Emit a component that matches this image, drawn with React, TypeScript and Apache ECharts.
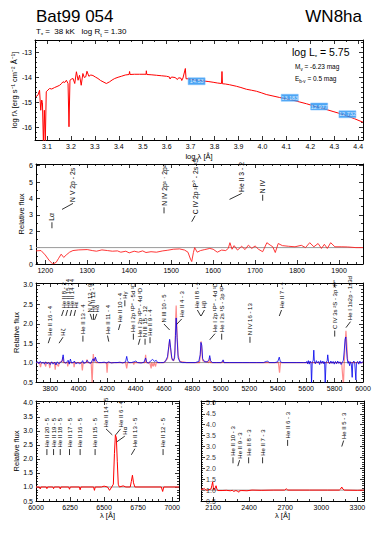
import React, { useEffect, useRef } from "react";
import * as echarts from "echarts";

const FONT = "'Liberation Sans', Arial, Helvetica, sans-serif";

// ---------------- header texts ----------------
const starName = "Bat99 054";
const spectralType = "WN8ha";
const tStar = "38 kK";
const logRt = "1.30";
const logL = "5.75";
const absMagV = "-6.23";
const colorExcess = "0.5";

// ---------------- panel 1 : SED ----------------
const sedPoints: number[][] = [
  [3.053, -14.77], [3.062, -14.71], [3.069, -14.51], [3.074, -15.31], [3.078, -14.9], [3.081, -15.0],
  [3.085, -16.6], [3.089, -15.31], [3.093, -16.6], [3.097, -14.57], [3.104, -14.5], [3.111, -14.44],
  [3.12, -14.46], [3.132, -14.4], [3.142, -14.36], [3.153, -14.31], [3.16, -14.25], [3.167, -14.17],
  [3.174, -14.2], [3.181, -14.11], [3.188, -14.24], [3.192, -15.97], [3.196, -14.11], [3.203, -14.06],
  [3.209, -14.04], [3.216, -14.24], [3.223, -13.77], [3.23, -14.11], [3.236, -13.91], [3.243, -14.31],
  [3.25, -13.84], [3.256, -14.0], [3.262, -13.97], [3.267, -13.75], [3.275, -13.95], [3.283, -13.9],
  [3.292, -13.92], [3.302, -13.98], [3.313, -14.04], [3.324, -14.12], [3.334, -14.17], [3.348, -14.24],
  [3.362, -14.17], [3.372, -14.1], [3.383, -14.04], [3.397, -13.99], [3.411, -13.95], [3.427, -13.9],
  [3.443, -13.88], [3.445, -13.76], [3.447, -13.88], [3.465, -13.87], [3.487, -13.87], [3.514, -13.87],
  [3.515, -13.73], [3.517, -13.88], [3.535, -13.89], [3.557, -13.91], [3.578, -13.93], [3.599, -13.95],
  [3.612, -13.98], [3.614, -14.06], [3.62, -13.98], [3.635, -14.0], [3.645, -14.08], [3.65, -14.01],
  [3.66, -14.03], [3.663, -14.12], [3.668, -14.02], [3.678, -13.64], [3.681, -14.05], [3.69, -14.05],
  [3.703, -14.08], [3.72, -14.1], [3.738, -14.11], [3.755, -14.14], [3.773, -14.16], [3.794, -14.19],
  [3.812, -14.22], [3.829, -14.24], [3.831, -13.76], [3.833, -14.25], [3.845, -14.26], [3.863, -14.29],
  [3.877, -14.32], [3.891, -14.35], [3.91, -14.4], [3.933, -14.47], [3.955, -14.51], [3.975, -14.55],
  [3.995, -14.61], [4.016, -14.68], [4.044, -14.74], [4.072, -14.8], [4.1, -14.86], [4.128, -14.91],
  [4.156, -14.98], [4.184, -15.05], [4.212, -15.13], [4.239, -15.2], [4.267, -15.28], [4.295, -15.36],
  [4.323, -15.44], [4.351, -15.53], [4.385, -15.65], [4.42, -15.79],
];
const photLogLam = [3.725, 4.114, 4.237, 4.355];
const photLogF = [-14.15, -14.81, -15.16, -15.47];
const photMag = ["14.53", "13.183", "12.977", "12.732"];
const sedXTicks = [3.1, 3.2, 3.3, 3.4, 3.5, 3.6, 3.7, 3.8, 3.9, 4.0, 4.1, 4.2, 4.3, 4.4];
const sedYTicks = [-16, -15, -14, -13];

// ---------------- panel 2 : UV ----------------
const uvFlux: number[][] = [
  [1178, 0.8], [1190, 0.82], [1200, 0.55], [1210, 0.2], [1218, 0.0], [1226, 0.1], [1232, 0.35],
  [1238, 0.6], [1244, 0.4], [1250, 0.55], [1258, 0.72], [1266, 0.82], [1280, 0.86], [1300, 0.88],
  [1312, 0.82], [1322, 0.78], [1335, 0.86], [1348, 0.82], [1360, 0.78], [1372, 0.8], [1380, 0.72],
  [1392, 0.78], [1400, 0.68], [1412, 0.78], [1422, 0.72], [1432, 0.8], [1440, 0.7], [1452, 0.75],
  [1465, 0.72], [1480, 0.8], [1492, 0.84], [1505, 0.9], [1520, 0.92], [1532, 0.85], [1540, 0.72],
  [1546, 0.3], [1549, 0.15], [1553, 0.7], [1556, 1.0], [1562, 0.72], [1570, 0.82], [1580, 0.88],
  [1592, 0.95], [1600, 0.9], [1610, 0.72], [1620, 0.85], [1630, 0.82], [1636, 0.95], [1640, 1.3],
  [1645, 0.9], [1650, 1.12], [1658, 0.85], [1668, 1.08], [1676, 0.88], [1684, 1.15], [1692, 0.95],
  [1700, 1.1], [1708, 0.9], [1718, 0.75], [1728, 1.3], [1736, 1.15], [1742, 1.05], [1748, 0.7],
  [1755, 1.25], [1765, 1.12], [1780, 1.08], [1795, 1.05], [1810, 1.14], [1820, 1.0], [1830, 1.3],
  [1840, 1.05], [1850, 1.25], [1858, 0.95], [1865, 1.2], [1872, 0.95], [1880, 1.3], [1890, 1.05],
  [1905, 1.05], [1920, 1.04], [1940, 1.0], [1957, 1.0],
];
const uvXTicks = [1200, 1300, 1400, 1500, 1600, 1700, 1800, 1900];
const uvYTicks = [0, 1, 2, 3, 4, 5, 6];
// [line wavelength, label wavelength, label height, text]
const uvLines: [number, number, number, string][] = [
  [1216, 1216, 2.18, "Lα"],
  [1240, 1266, 3.33, "N V 2p - 2s"],
  [1483, 1483, 3.09, "N IV 2p¹ · 2p²"],
  [1549, 1557, 2.58, "C IV 2p ²P° - 2s ²S"],
  [1639, 1668, 3.94, "He II 3 - 2"],
  [1718, 1718, 3.86, "N IV"],
];

// ---------------- panel 3 : optical ----------------
const optModel: number[][] = [
  [3700, 1.0], [3725, 1.0], [3732, 0.88], [3738, 1.0], [3760, 1.0], [3768, 0.9], [3774, 1.0],
  [3790, 1.0], [3797, 0.86], [3803, 1.0], [3830, 1.0], [3835, 0.82], [3841, 1.0], [3858, 0.9],
  [3864, 1.0], [3886, 1.05], [3889, 1.14], [3893, 1.0], [3920, 1.0], [3923, 0.9], [3928, 1.0],
  [3965, 1.0], [3968, 0.88], [3972, 1.0], [4020, 1.0], [4026, 0.8], [4032, 1.0], [4055, 1.0],
  [4058, 1.08], [4062, 1.0], [4088, 1.0], [4095, 0.45], [4100, 1.0], [4103, 1.22], [4108, 1.05],
  [4116, 1.12], [4122, 1.0], [4195, 1.0], [4200, 0.74], [4205, 1.0], [4330, 1.0], [4338, 0.85],
  [4344, 1.0], [4384, 1.0], [4388, 0.95], [4392, 1.0], [4466, 1.0], [4471, 1.2], [4476, 1.0],
  [4500, 1.0], [4510, 0.85], [4514, 1.0], [4525, 0.9], [4530, 1.0], [4541, 0.9], [4546, 1.0],
  [4600, 1.0], [4625, 1.1], [4634, 1.4], [4640, 1.58], [4648, 1.3], [4656, 1.08], [4670, 1.05],
  [4678, 1.3], [4683, 2.2], [4686, 2.47], [4691, 1.9], [4699, 1.2], [4712, 1.03], [4760, 1.0],
  [4850, 1.0], [4856, 1.2], [4861, 1.55], [4866, 1.35], [4872, 1.05], [4915, 1.0], [4922, 1.12],
  [4928, 1.0], [5010, 1.0], [5016, 1.05], [5022, 1.0], [5405, 1.0], [5413, 0.74], [5420, 1.0],
  [5850, 1.0], [5862, 0.4], [5868, 1.0], [5873, 1.4], [5880, 1.82], [5886, 1.5], [5892, 1.05],
  [5905, 1.0], [6000, 1.0],
];
const optObserved: number[][] = [
  [3700, 1.0], [3712, 1.02], [3720, 0.97], [3730, 1.03], [3740, 0.98], [3750, 1.01], [3760, 0.96],
  [3768, 1.02], [3778, 0.97], [3790, 1.0], [3800, 0.95], [3810, 1.02], [3820, 0.96], [3832, 1.01],
  [3840, 0.94], [3850, 1.02], [3860, 0.97], [3872, 1.0], [3883, 1.04], [3891, 1.2], [3897, 1.02],
  [3908, 0.98], [3918, 1.02], [3926, 1.06], [3934, 0.96], [3942, 1.09], [3950, 0.99], [3962, 1.0],
  [3970, 1.04], [3980, 0.97], [3995, 1.0], [4008, 0.97], [4020, 1.0], [4028, 1.05], [4036, 0.98],
  [4050, 1.0], [4060, 1.06], [4070, 1.0], [4085, 0.98], [4096, 1.06], [4102, 1.1], [4108, 1.03],
  [4118, 1.14], [4126, 1.04], [4140, 1.0], [4160, 1.0], [4180, 1.01], [4196, 0.99], [4210, 1.02],
  [4230, 0.99], [4250, 1.0], [4270, 1.0], [4290, 1.01], [4310, 0.99], [4330, 1.02], [4338, 1.16],
  [4344, 1.05], [4352, 1.0], [4370, 1.0], [4390, 1.02], [4402, 1.04], [4415, 1.0], [4440, 0.99],
  [4460, 1.01], [4471, 1.12], [4478, 1.02], [4490, 0.98], [4505, 1.04], [4520, 1.08], [4535, 1.03],
  [4545, 1.06], [4556, 1.0], [4575, 1.0], [4595, 1.0], [4610, 1.03], [4625, 1.15], [4634, 1.42],
  [4640, 1.6], [4647, 1.38], [4655, 1.12], [4665, 1.05], [4675, 1.12], [4681, 1.7], [4686, 2.15],
  [4692, 1.65], [4700, 1.12], [4712, 1.02], [4730, 1.0], [4760, 1.0], [4790, 1.0], [4820, 1.0],
  [4845, 1.03], [4855, 1.2], [4860, 1.52], [4866, 1.45], [4872, 1.1], [4885, 1.02], [4905, 1.02],
  [4916, 1.07], [4922, 1.18], [4928, 1.05], [4940, 1.0], [4970, 1.0], [5000, 1.0], [5012, 1.03],
  [5016, 1.07], [5022, 1.0], [5060, 1.0], [5100, 1.0], [5150, 1.0], [5200, 1.0], [5250, 1.0],
  [5300, 1.0], [5320, 1.03], [5330, 1.04], [5340, 1.0], [5380, 1.0], [5400, 1.02], [5411, 1.14],
  [5418, 1.03], [5430, 1.0], [5480, 1.0], [5530, 1.0], [5580, 1.0], [5600, 1.0], [5605, 1.03],
  [5610, 0.97], [5616, 1.05], [5622, 0.96], [5628, 1.04], [5634, 0.98], [5638, 0.45], [5643, 1.02],
  [5650, 1.06], [5654, 1.32], [5658, 1.02], [5665, 0.97], [5672, 1.05], [5680, 0.99], [5688, 1.03],
  [5695, 0.95], [5702, 1.05], [5710, 0.98], [5718, 1.04], [5724, 0.97], [5730, 1.02], [5734, 0.45],
  [5740, 1.0], [5748, 1.05], [5752, 1.2], [5758, 1.0], [5766, 0.97], [5774, 1.04], [5782, 0.98],
  [5790, 1.03], [5798, 0.96], [5806, 1.03], [5814, 0.97], [5822, 1.04], [5830, 0.98], [5838, 1.02],
  [5846, 0.95], [5854, 1.0], [5862, 1.06], [5868, 1.3], [5874, 1.6], [5879, 1.66], [5884, 1.35],
  [5889, 1.1], [5895, 0.98], [5900, 1.03], [5906, 0.92], [5912, 1.02], [5918, 0.96], [5924, 0.62],
  [5928, 1.0], [5936, 1.04], [5942, 0.97], [5950, 0.55], [5954, 1.0], [5962, 1.03], [5970, 0.96],
  [5978, 1.04], [5986, 0.98], [5994, 1.02], [6000, 1.0],
];
const optXTicks = [3800, 4000, 4200, 4400, 4600, 4800, 5000, 5200, 5400, 5600, 5800, 6000];
const relYTicks3 = [0.5, 1.0, 1.5, 2.0, 2.5, 3.0];
const optLines: [number, number, number, string][] = [
  [3786, 3800, 1.5, "He II 16 - 4"],
  [3862, 3890, 1.5, "Hζ"],
  [3880, 3894, 2.2, "He II 8 - 2"],
  [3910, 3922, 2.2, "He II 15 - 4"],
  [3940, 3950, 2.2, "He II 14 - 4"],
  [3968, 3978, 2.2, "Hε"],
  [4030, 4030, 1.54, "He II 13 - 4"],
  [4095, 4081, 2.1, "N IV 12 - 9"],
  [4104, 4104, 2.1, "He II 12 - 4"],
  [4112, 4128, 2.1, "Hδ"],
  [4212, 4203, 1.54, "He II 11 - 4"],
  [4280, 4292, 1.84, "He II 10 - 4"],
  [4325, 4325, 2.45, "Hγ"],
  [4385, 4385, 1.59, "He I 2p ¹P° - 5d ¹D"],
  [4420, 4432, 1.46, "He I 2p ³P° - 4d ³D"],
  [4467, 4467, 1.46, "N III 15 - 12"],
  [4502, 4502, 1.5, "He II 9 - 4"],
  [4640, 4600, 1.84, "N III 10 - 5"],
  [4686, 4725, 1.97, "He II 4 - 3"],
  [4859, 4835, 2.2, "He II 8 - 4"],
  [4861, 4885, 2.2, "Hβ"],
  [4922, 4959, 1.59, "He I 2p ¹P° - 4d ¹D"],
  [5006, 5006, 1.59, "He I 2s ¹S - 3p ¹P"],
  [5205, 5205, 1.51, "N IV 16 - 13"],
  [5411, 5427, 2.2, "He II 7 - 4"],
  [5801, 5801, 1.67, "C IV 3s ²S - 3p ²P°"],
  [5880, 5912, 1.9, "He I 1s2p - 1s3d"],
];

// ---------------- panel 4 : red ----------------
const redFlux: number[][] = [
  [6000, 1.0], [6025, 1.0], [6031, 0.93], [6036, 1.0], [6075, 1.0], [6080, 0.94], [6085, 1.0],
  [6124, 1.0], [6129, 0.94], [6134, 1.0], [6173, 1.0], [6178, 0.93], [6183, 1.0], [6240, 1.0],
  [6246, 0.92], [6252, 1.0], [6318, 1.0], [6324, 0.9], [6330, 1.0], [6423, 1.0], [6429, 0.88],
  [6435, 1.0], [6480, 1.0], [6500, 1.03], [6525, 1.0], [6540, 0.88], [6556, 1.0], [6568, 1.1],
  [6576, 2.2], [6583, 2.86], [6590, 2.75], [6597, 1.9], [6604, 1.1], [6612, 1.0], [6640, 1.04],
  [6660, 1.0], [6692, 1.0], [6700, 1.2], [6708, 1.42], [6716, 1.15], [6726, 1.0], [6920, 1.0],
  [6930, 0.84], [6938, 1.0], [7050, 1.0],
];
const redXTicks = [6000, 6250, 6500, 6750, 7000];
const relYTicks4 = [0.5, 1.0, 1.5, 2.0, 2.5, 3.0, 3.5, 4.0];
const redLines: [number, number, number, string][] = [
  [6080, 6080, 2.14, "He II 20 - 5"],
  [6129, 6129, 2.14, "He II 19 - 5"],
  [6178, 6178, 2.14, "He II 18 - 5"],
  [6246, 6246, 2.14, "He II 17 - 5"],
  [6324, 6324, 2.14, "He II 16 - 5"],
  [6434, 6434, 2.14, "He II 15 - 5"],
  [6560, 6514, 2.86, "He II 14 - 5"],
  [6585, 6621, 2.86, "He II 6 - 4"],
  [6590, 6652, 2.6, "Hα"],
  [6700, 6726, 2.15, "He II 13 - 5"],
  [6933, 6933, 2.14, "He II 12 - 5"],
];

// ---------------- panel 5 : near UV ----------------
const nuvFlux: number[][] = [
  [2000, 1.05], [2015, 1.03], [2027, 1.08], [2040, 1.0], [2055, 1.0], [2083, 1.05], [2090, 1.2],
  [2097, 1.38], [2103, 1.1], [2108, 1.0], [2118, 1.1], [2125, 1.2], [2132, 1.05], [2139, 0.98],
  [2175, 0.98], [2210, 0.99], [2244, 0.97], [2260, 0.99], [2272, 0.94], [2290, 0.98], [2305, 0.95],
  [2313, 0.9], [2320, 0.97], [2340, 0.98], [2382, 0.97], [2424, 1.0], [2500, 0.99], [2600, 1.0],
  [2695, 1.0], [2709, 1.06], [2722, 1.0], [2900, 1.0], [3050, 1.0], [3150, 1.0], [3160, 1.05],
  [3170, 1.14], [3180, 1.05], [3190, 1.0], [3300, 0.99], [3355, 1.0],
];
const nuvXTicks = [2100, 2400, 2700, 3000, 3300];
const relYTicks5 = [0.5, 1.0, 1.5, 2.0, 2.5, 3.0, 3.5, 4.0, 4.5, 5.0];
const nuvLines: [number, number, number, string][] = [
  [2266, 2266, 2.23, "He II 10 - 3"],
  [2306, 2321, 2.1, "He II 9 - 3"],
  [2396, 2396, 2.23, "He II 8 - 3"],
  [2512, 2512, 2.23, "He II 7 - 3"],
  [2720, 2720, 3.03, "He II 6 - 3"],
  [3170, 3186, 3.0, "He II 5 - 3"],
];

const continuumLevel = 1.0;

// ---------------- layout ----------------
const panels = [
  { left: 35, top: 40, width: 328, height: 100, xMin: 3.05, xMax: 4.42, yMin: -16.5, yMax: -12.5,
    xTicks: sedXTicks, yTicks: sedYTicks, xMinor: 0.05, yMinor: 0.2, xDec: 1, yDec: 0,
    xName: "log λ [Å]", xNameGap: 12, yName: "log fλ [erg s⁻¹ cm⁻² Å⁻¹]", yNameGap: 17, yAxisLabels: true },
  { left: 36, top: 164, width: 327, height: 100, xMin: 1178, xMax: 1957, yMin: 0, yMax: 6.1,
    xTicks: uvXTicks, yTicks: uvYTicks, xMinor: 20, yMinor: 0.5, xDec: 0, yDec: 0,
    yName: "Relative flux", yNameGap: 11, yAxisLabels: true },
  { left: 36, top: 283, width: 327, height: 99, xMin: 3700, xMax: 6000, yMin: 0.5, yMax: 3.05,
    xTicks: optXTicks, yTicks: relYTicks3, xMinor: 50, yMinor: 0.1, xDec: 0, yDec: 1,
    yName: "Relative flux", yNameGap: 16, yAxisLabels: true },
  { left: 36, top: 401, width: 143, height: 100, xMin: 6000, xMax: 7050, yMin: 0.5, yMax: 4.07,
    xTicks: redXTicks, yTicks: relYTicks4, xMinor: 50, yMinor: 0.1, xDec: 0, yDec: 1,
    xName: "λ [Å]", xNameGap: 10, yName: "Relative flux", yNameGap: 16, yAxisLabels: true },
  { left: 201, top: 401, width: 163, height: 100, xMin: 2000, xMax: 3355, yMin: 0.5, yMax: 5.09,
    xTicks: nuvXTicks, yTicks: relYTicks5, xMinor: 100, yMinor: 0.1, xDec: 0, yDec: 1,
    xName: "λ [Å]", xNameGap: 10, yAxisLabels: false },
];
const idFontSizes = [6, 6.8, 6, 6, 6];

function minorValues(min: number, max: number, step: number, majors: number[]) {
  const out: number[] = [];
  const start = Math.ceil(min / step - 1e-9);
  for (let k = start; k * step <= max + 1e-9; k++) {
    const v = +(k * step).toFixed(6);
    if (!majors.some((m) => Math.abs(m - v) < step * 1e-3)) out.push(v);
  }
  return out;
}

function mkAxis(gi: number, pos: string, min: number, max: number, vals: number[], major: boolean,
  showLabel: boolean, dec: number, name?: string, nameGap?: number) {
  const isY = pos === "left" || pos === "right";
  const ax: any = {
    type: "value",
    gridIndex: gi,
    position: pos,
    min,
    max,
    axisLine: { show: major, onZero: false, lineStyle: { color: "#000", width: 1 } },
    axisTick: { show: true, inside: true, length: major ? 4 : 2, customValues: vals,
      lineStyle: { color: "#000", width: 0.8 } },
    axisLabel: { show: showLabel, customValues: vals, fontFamily: FONT, fontSize: 7, color: "#000",
      margin: 3, hideOverlap: false, showMinLabel: true, showMaxLabel: true,
      formatter: (v: number) => v.toFixed(dec) },
    splitLine: { show: false },
    minorTick: { show: false },
  };
  if (name) {
    ax.name = name;
    ax.nameLocation = "middle";
    ax.nameGap = nameGap || 0;
    ax.nameRotate = isY ? 90 : 0;
    ax.nameMoveOverlap = false;
    ax.nameTextStyle = { fontFamily: FONT, fontSize: 7.5, color: "#000" };
  }
  return ax;
}

function lineIdSeries(gi: number, ids: [number, number, number, string][]) {
  const fs = idFontSizes[gi];
  return {
    type: "custom",
    coordinateSystem: "cartesian2d",
    xAxisIndex: gi * 4,
    yAxisIndex: gi * 4,
    silent: true,
    clip: false,
    data: ids.map((d) => [d[0], d[1], d[2]]),
    encode: { x: [0, 1], y: 2 },
    renderItem: (params: any, api: any) => {
      const p0 = api.coord([api.value(0), api.value(2)]);
      const p1 = api.coord([api.value(1), api.value(2)]);
      const tx = p1[0];
      const ty = p1[1] - 6;
      return {
        type: "group",
        children: [
          { type: "line", shape: { x1: p0[0], y1: p0[1], x2: tx, y2: ty },
            style: { stroke: "#000", lineWidth: 0.8 } },
          { type: "text", x: tx, y: ty - 1.5, rotation: Math.PI / 2,
            style: { text: ids[params.dataIndex][3], fontFamily: FONT, fontSize: fs, fill: "#000",
              align: "left", verticalAlign: "middle" } },
        ],
      };
    },
  };
}

// y tick labels of a panel as labels of invisible points on the panel's left edge
function yTickLabelScatter(gi: number) {
  const p = panels[gi];
  return {
    type: "scatter",
    xAxisIndex: gi * 4,
    yAxisIndex: gi * 4,
    silent: true,
    clip: false,
    z: 20,
    symbol: "circle",
    symbolSize: 0.1,
    itemStyle: { color: "rgba(0,0,0,0)" },
    data: p.yTicks.map((v) => [p.xMin, v]),
    label: {
      show: true, position: "right", distance: 5, color: "#000", fontFamily: FONT, fontSize: 7,
      formatter: (q: any) => (q.value[1] as number).toFixed(p.yDec),
    },
    labelLayout: { hideOverlap: false },
  };
}

function lineSeries(gi: number, data: number[][], color: string, width: number, opacity = 1, z = 2) {
  return {
    type: "line",
    xAxisIndex: gi * 4,
    yAxisIndex: gi * 4,
    data,
    showSymbol: false,
    symbol: "none",
    clip: true,
    z,
    lineStyle: { color, width, opacity },
    silent: true,
  };
}

function continuum(gi: number) {
  const p = panels[gi];
  return lineSeries(gi, [[p.xMin, continuumLevel], [p.xMax, continuumLevel]], "#9a9a9a", 1, 1, 1);
}

export default function App() {
  const ref = useRef<HTMLDivElement>(null);
  useEffect(() => {
    if (!ref.current) return;
    const chart = echarts.init(ref.current, undefined, { renderer: "svg" });
    const grid = panels.map((p) => ({
      left: p.left, top: p.top, width: p.width, height: p.height, show: false,
      containLabel: false, outerBoundsMode: "none",
    }));
    const xAxis: any[] = [];
    const yAxis: any[] = [];
    panels.forEach((p, gi) => {
      const xm = minorValues(p.xMin, p.xMax, p.xMinor, p.xTicks);
      const ym = minorValues(p.yMin, p.yMax, p.yMinor, p.yTicks);
      xAxis.push(mkAxis(gi, "bottom", p.xMin, p.xMax, p.xTicks, true, true, p.xDec, p.xName, p.xNameGap));
      xAxis.push(mkAxis(gi, "top", p.xMin, p.xMax, p.xTicks, true, false, p.xDec));
      xAxis.push(mkAxis(gi, "bottom", p.xMin, p.xMax, xm, false, false, p.xDec));
      xAxis.push(mkAxis(gi, "top", p.xMin, p.xMax, xm, false, false, p.xDec));
      yAxis.push(mkAxis(gi, "left", p.yMin, p.yMax, p.yTicks, true, p.yAxisLabels, p.yDec, p.yName, p.yNameGap));
      yAxis.push(mkAxis(gi, "right", p.yMin, p.yMax, p.yTicks, true, false, p.yDec));
      yAxis.push(mkAxis(gi, "left", p.yMin, p.yMax, ym, false, false, p.yDec));
      yAxis.push(mkAxis(gi, "right", p.yMin, p.yMax, ym, false, false, p.yDec));
    });

    const photSeries = {
      type: "scatter",
      xAxisIndex: 0,
      yAxisIndex: 0,
      data: photLogLam.map((x, i) => [x, photLogF[i]]),
      symbol: "rect",
      symbolSize: [17, 7],
      z: 5,
      itemStyle: { color: "#1f8ef1", borderColor: "#7fc0ff", borderWidth: 0.6 },
      label: { show: true, position: "inside", color: "#fff", fontFamily: FONT, fontSize: 5.5,
        formatter: (p: any) => photMag[p.dataIndex] },
      silent: true,
    };

    const sub = { fontFamily: FONT, fontSize: 5.5, verticalAlign: "bottom", padding: [0, 0, -3, 0] };

    chart.setOption({
      animation: false,
      backgroundColor: "#fff",
      grid,
      xAxis,
      yAxis,
      series: [
        lineSeries(0, sedPoints, "#ff0000", 1),
        photSeries,
        continuum(1),
        lineSeries(1, uvFlux, "#ff2020", 0.9),
        lineIdSeries(1, uvLines),
        continuum(2),
        lineSeries(2, optModel, "#ff0000", 1.2, 0.45, 2),
        lineSeries(2, optObserved, "#0000ee", 0.9, 0.9, 3),
        lineIdSeries(2, optLines),
        continuum(3),
        lineSeries(3, redFlux, "#ff0000", 1),
        lineIdSeries(3, redLines),
        continuum(4),
        lineSeries(4, nuvFlux, "#ff0000", 1),
        lineIdSeries(4, nuvLines),
        yTickLabelScatter(4),
      ],
      graphic: [
        { type: "text", left: 36, top: 8, style: { text: starName, fontFamily: FONT, fontSize: 17, fill: "#000" } },
        { type: "text", right: 20, top: 8, style: { text: spectralType, fontFamily: FONT, fontSize: 17, fill: "#000" } },
        { type: "text", left: 36, top: 27, style: {
          text: `T{s|*} =  ${tStar}   log R{s|t} = ${logRt}`, fontFamily: FONT, fontSize: 8, fill: "#000",
          rich: { s: { ...sub } } } },
        { type: "text", left: 292, top: 46, style: {
          text: `log L{s|*} = ${logL}`, fontFamily: FONT, fontSize: 10.5, fill: "#000",
          rich: { s: { ...sub, fontSize: 6 } } } },
        { type: "text", left: 295, top: 63, style: {
          text: `M{s|v} = ${absMagV} mag`, fontFamily: FONT, fontSize: 6.5, fill: "#000",
          rich: { s: { ...sub, fontSize: 4.5, padding: [0, 0, -2, 0] } } } },
        { type: "text", left: 295, top: 75, style: {
          text: `E{s|b-v} = ${colorExcess} mag`, fontFamily: FONT, fontSize: 6.5, fill: "#000",
          rich: { s: { ...sub, fontSize: 4.5, padding: [0, 0, -2, 0] } } } },
      ],
    });
    return () => chart.dispose();
  }, []);
  return (
    <div
      ref={ref}
      style={{ position: "fixed", left: 0, top: 0, width: 382, height: 541, background: "#fff" }}
    />
  );
}
